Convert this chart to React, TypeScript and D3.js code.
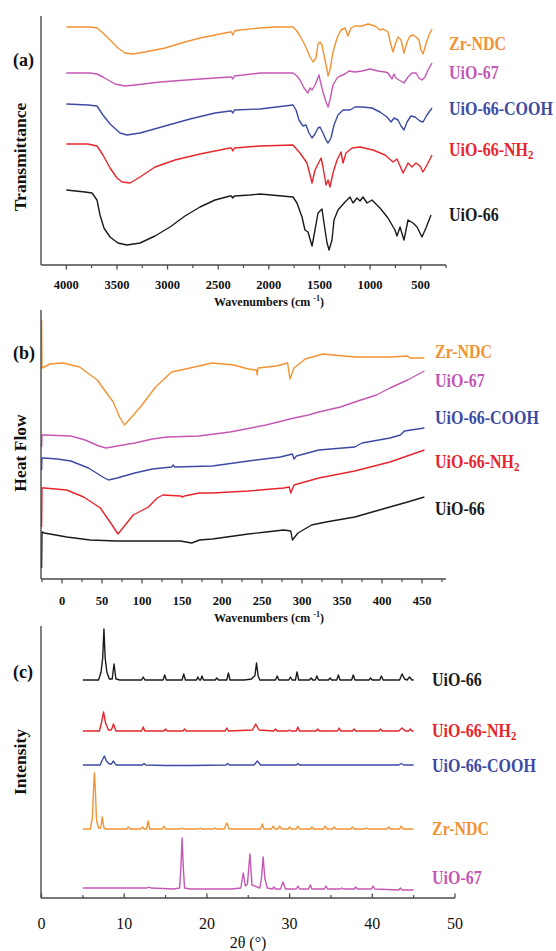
import React from "react";
import * as d3 from "d3";

type Pt = [number, number];

// ---------- colours ----------
const ORANGE = "#F39233";
const MAGENTA = "#C458B4";
const BLUE = "#3D4AA3";
const RED = "#E6262C";
const BLACK = "#1b1b1b";

// ---------- (a) FTIR: wavenumber (cm-1), transmittance (a.u., offset) ----------
const irTicksMajor = [4000, 3500, 3000, 2500, 2000, 1500, 1000, 500];
const irTicksMinor = [3750, 3250, 2750, 2250, 1750, 1250, 750, 250];

const irZrNDC: Pt[] = [
  [4000, 238], [3766, 238], [3697, 237], [3638, 232], [3568, 225], [3490, 217], [3420, 212], [3341, 211],
  [3223, 213], [3025, 217], [2828, 223], [2680, 227], [2482, 231], [2383, 233], [2370, 233], [2355, 230],
  [2340, 234], [2284, 235], [2087, 237], [1939, 238], [1761, 238], [1731, 235], [1692, 229], [1643, 220],
  [1593, 208], [1564, 203], [1534, 207], [1514, 221], [1494, 223], [1475, 220], [1455, 210], [1425, 195],
  [1415, 189], [1396, 195], [1366, 213], [1326, 227], [1287, 235], [1247, 237], [1218, 229], [1188, 237],
  [1149, 239], [1080, 239], [1020, 241], [951, 239], [902, 235], [872, 236], [823, 233], [793, 220],
  [773, 213], [754, 220], [724, 228], [694, 225], [665, 212], [635, 223], [605, 229], [576, 230],
  [546, 228], [517, 225], [497, 215], [477, 211], [448, 221], [418, 230], [388, 236],
];
const irUiO67: Pt[] = [
  [4000, 192], [3766, 192], [3697, 191], [3638, 188], [3519, 181], [3420, 179], [3322, 180], [3075, 183],
  [2680, 186], [2383, 188], [2370, 188], [2355, 186], [2340, 189], [2087, 192], [1761, 192], [1722, 189],
  [1692, 185], [1652, 177], [1613, 172], [1593, 177], [1573, 175], [1544, 180], [1504, 190], [1494, 185],
  [1465, 173], [1435, 163], [1415, 158], [1396, 165], [1366, 180], [1326, 187], [1297, 189], [1247, 191],
  [1208, 194], [1149, 193], [1080, 194], [1000, 196], [922, 194], [852, 193], [823, 192], [783, 186],
  [764, 191], [744, 187], [714, 185], [665, 182], [625, 188], [586, 192], [546, 192], [517, 187],
  [487, 185], [457, 188], [428, 195], [388, 202],
];
const irUiO66COOH: Pt[] = [
  [4000, 161], [3786, 160], [3697, 159], [3638, 150], [3568, 141], [3470, 132], [3401, 130], [3272, 132],
  [3025, 139], [2778, 146], [2531, 152], [2383, 154], [2370, 154], [2355, 152], [2340, 155], [2087, 156],
  [1761, 160], [1731, 155], [1702, 145], [1662, 139], [1633, 140], [1603, 132], [1573, 127], [1544, 131],
  [1514, 137], [1494, 138], [1465, 132], [1435, 125], [1415, 122], [1386, 127], [1356, 140], [1317, 150],
  [1267, 155], [1198, 155], [1149, 158], [1080, 158], [981, 157], [902, 153], [833, 148], [793, 143],
  [764, 147], [724, 145], [694, 139], [665, 135], [635, 143], [596, 149], [556, 148], [507, 144],
  [477, 143], [438, 150], [388, 157],
];
const irUiO66NH2: Pt[] = [
  [4000, 121], [3786, 121], [3697, 119], [3638, 110], [3568, 97], [3499, 87], [3450, 83], [3371, 82],
  [3272, 88], [3124, 98], [2927, 105], [2680, 111], [2482, 115], [2383, 117], [2370, 117], [2355, 114],
  [2340, 117], [2087, 119], [1761, 120], [1692, 112], [1623, 102], [1573, 82], [1544, 95], [1484, 107],
  [1465, 98], [1435, 80], [1415, 85], [1396, 78], [1366, 92], [1326, 105], [1287, 113], [1267, 102],
  [1238, 112], [1178, 117], [1099, 118], [971, 115], [852, 110], [773, 103], [734, 106], [674, 92],
  [625, 102], [586, 98], [546, 102], [507, 99], [477, 93], [438, 100], [388, 110],
];
const irUiO66: Pt[] = [
  [4000, 75], [3815, 73], [3746, 72], [3697, 65], [3667, 50], [3628, 37], [3568, 28], [3490, 22],
  [3401, 20], [3272, 22], [3124, 29], [2976, 38], [2828, 49], [2680, 58], [2531, 65], [2383, 69],
  [2370, 69], [2355, 67], [2340, 69], [2186, 70], [2087, 71], [1761, 68], [1722, 62], [1672, 48],
  [1643, 35], [1613, 33], [1573, 19], [1544, 35], [1514, 52], [1475, 56], [1455, 42], [1425, 22],
  [1405, 15], [1376, 25], [1356, 45], [1317, 55], [1247, 63], [1198, 68], [1168, 62], [1129, 67],
  [1099, 64], [1070, 68], [1030, 62], [981, 65], [902, 57], [823, 47], [754, 35], [734, 29],
  [704, 38], [665, 25], [625, 45], [576, 42], [536, 38], [487, 28], [448, 37], [398, 50],
];

// ---------- (b) DSC: temperature, heat flow (a.u., offset) ----------
const dscTicksMajor = [0, 50, 100, 150, 200, 250, 300, 350, 400, 450];
const dscTicksMinor = [-25, 25, 75, 125, 175, 225, 275, 325, 375, 425, 475];

const dscZrNDC: Pt[] = [
  [-25.5, 259], [-25, 211], [-15, 215], [1, 216], [22, 212], [44, 199], [64, 177], [72, 162], [78, 154],
  [86, 161], [100, 174], [117, 192], [137, 207], [149, 209], [171, 213], [188, 216], [215, 214],
  [233, 210], [243, 209], [244, 204], [245, 211], [268, 213], [282, 216], [285, 200], [290, 211],
  [304, 220], [326, 225], [366, 222], [410, 222], [432, 223], [435, 221], [453, 221],
];
const dscUiO67: Pt[] = [
  [-25.5, 132], [-25, 144], [-22, 144], [11, 143], [29, 139], [46, 133], [55, 131], [69, 133], [91, 136],
  [113, 140], [131, 142], [171, 143], [210, 147], [255, 154], [290, 161], [308, 164], [321, 167],
  [348, 172], [366, 177], [393, 184], [410, 191], [432, 199], [453, 208],
];
const dscUiO66COOH: Pt[] = [
  [-25.5, 109], [-25, 121], [-22, 121], [-6, 120], [11, 118], [33, 111], [51, 102], [58, 99], [69, 101],
  [91, 106], [113, 110], [137, 112], [139, 114], [141, 112], [188, 113], [233, 118], [273, 122],
  [288, 125], [290, 120], [293, 123], [321, 129], [366, 132], [375, 136], [410, 141], [423, 144],
  [428, 148], [453, 151],
];
const dscUiO66NH2: Pt[] = [
  [-25.5, 52], [-25, 91], [-22, 91], [6, 89], [27, 82], [48, 71], [60, 57], [70, 45], [81, 56], [89, 64],
  [101, 69], [108, 72], [119, 81], [126, 84], [148, 83], [151, 82], [153, 83], [172, 86], [188, 86],
  [233, 88], [277, 91], [284, 92], [286, 86], [290, 94], [321, 101], [366, 108], [410, 117], [453, 129],
];
const dscUiO66: Pt[] = [
  [-25.5, 11], [-25, 47], [-22, 46], [6, 42], [35, 39], [68, 38], [110, 38], [148, 38], [162, 36],
  [172, 39], [188, 40], [233, 45], [255, 47], [277, 49], [286, 48], [288, 39], [295, 46], [312, 54],
  [330, 57], [366, 62], [401, 70], [432, 77], [453, 82],
];

// ---------- (c) XRD: 2θ (°), intensity (a.u., offset) ----------
const xrdTicksMajor = [0, 10, 20, 30, 40, 50];
const xrdTicksMinor = [5, 15, 25, 35, 45];

const xrdUiO66: Pt[] = [
  [5, 218], [6.9, 218], [7.2, 226], [7.4, 240], [7.55, 269], [7.7, 240], [7.9, 226], [8.2, 219], [8.55, 219],
  [8.77, 234], [9.0, 219], [9.5, 218], [12.1, 218], [12.3, 221], [12.5, 218], [14.7, 218], [14.9, 223],
  [15.1, 218], [17.0, 218], [17.2, 224], [17.4, 218], [18.75, 218], [18.9, 221], [19.1, 218], [19.25, 218],
  [19.4, 222], [19.6, 218], [21.0, 218], [21.2, 220], [21.4, 218], [22.4, 218], [22.6, 225], [22.8, 218],
  [24.5, 218], [25.4, 219], [25.6, 221], [25.8, 222], [26.0, 235], [26.2, 222], [26.4, 218], [28.3, 218],
  [28.5, 222], [28.7, 218], [29.9, 218], [30.1, 221], [30.3, 218], [30.7, 218], [30.9, 226], [31.1, 218],
  [32.4, 218], [32.6, 220], [32.8, 218], [33.1, 218], [33.3, 222], [33.5, 218], [34.7, 218], [34.9, 220],
  [35.1, 218], [35.7, 218], [35.9, 223], [36.1, 218], [37.5, 218], [37.7, 223], [37.9, 218], [39.6, 218],
  [39.8, 220], [40.0, 218], [40.9, 218], [41.1, 222], [41.3, 218], [43.3, 218], [43.6, 224], [43.9, 219],
  [44.2, 218], [44.5, 221], [44.8, 218], [45, 218],
];
const xrdUiO66NH2: Pt[] = [
  [5, 167], [7.0, 167], [7.25, 175], [7.5, 186], [7.75, 175], [8.1, 168], [8.45, 168], [8.7, 174], [9.0, 167],
  [12.1, 167], [12.3, 171], [12.5, 167], [14.8, 167], [15.0, 169], [15.2, 167], [17.1, 167], [17.3, 169],
  [17.5, 167], [22.2, 167], [22.4, 170], [22.6, 167], [25.5, 168], [25.9, 174], [26.3, 168], [28.1, 167],
  [28.3, 169], [28.5, 167], [29.8, 167], [30, 168], [30.2, 167], [30.8, 167], [31, 171], [31.2, 167],
  [33.2, 167], [33.4, 169], [33.6, 167], [35.8, 167], [36, 170], [36.2, 167], [37.6, 167], [37.8, 169],
  [38.0, 167], [40.8, 167], [41, 169], [41.2, 167], [43.2, 167], [43.6, 170], [44.0, 167], [44.4, 167],
  [44.6, 169], [44.8, 167], [45, 167],
];
const xrdUiO66COOH: Pt[] = [
  [5, 133], [7.1, 133], [7.35, 138], [7.6, 142], [7.85, 137], [8.2, 134], [8.45, 134], [8.7, 137], [9.0, 133],
  [9.5, 133], [12.2, 133], [12.4, 134.5], [12.6, 133], [15, 132.5], [18, 132.5], [22.3, 133], [22.5, 134.5],
  [22.7, 133], [25.7, 133], [26.1, 137], [26.5, 133], [30.8, 133], [31, 134.5], [31.2, 133], [43.2, 133],
  [43.5, 134.5], [43.8, 133], [45, 133],
];
const xrdZrNDC: Pt[] = [
  [5, 69], [5.9, 69], [6.15, 80], [6.3, 110], [6.4, 125], [6.5, 110], [6.65, 78], [6.9, 70], [7.15, 70],
  [7.35, 81], [7.55, 70], [7.9, 69], [10.3, 69], [10.5, 71], [10.7, 69], [12.0, 69], [12.2, 71], [12.4, 69],
  [12.7, 69], [12.9, 77], [13.1, 69], [14.6, 69], [14.8, 72], [15.0, 69], [16.8, 69], [17, 70], [17.2, 69],
  [19, 69], [19.2, 70], [19.4, 69], [20.8, 69], [21, 70], [21.2, 69], [22.1, 69], [22.4, 75], [22.7, 69],
  [26.5, 69], [26.7, 74], [26.9, 69], [27.8, 69], [28.0, 72], [28.2, 69], [28.6, 69], [28.8, 72], [29.0, 69],
  [29.8, 69], [30, 71], [30.2, 69], [30.8, 69], [31, 72], [31.2, 69], [32.5, 69], [32.7, 71], [32.9, 69],
  [34.1, 69], [34.3, 72], [34.5, 69], [35.2, 69], [35.4, 71], [35.6, 69], [37.4, 69], [37.6, 71], [37.8, 69],
  [39.1, 69], [39.3, 70], [39.5, 69], [41.8, 69], [42, 71], [42.2, 69], [43.3, 69], [43.5, 72], [43.7, 69],
  [45, 69],
];
const xrdUiO67: Pt[] = [
  [5, 10], [8, 10], [12.8, 10], [13, 11], [13.2, 10], [16.0, 9], [16.7, 10], [16.85, 30], [17.0, 60],
  [17.15, 30], [17.3, 10], [18, 9], [23, 9], [24.1, 10], [24.4, 25], [24.65, 12], [24.9, 14], [25.2, 44],
  [25.45, 13], [26.4, 10], [26.6, 20], [26.8, 41], [27.0, 20], [27.3, 10], [27.9, 9], [28.1, 11], [28.3, 9],
  [28.9, 9], [29.2, 16], [29.5, 9], [30.8, 9], [31.0, 12], [31.2, 9], [32.3, 9], [32.5, 13], [32.7, 9],
  [34.2, 9], [34.4, 12], [34.6, 9], [36.1, 9], [36.3, 10], [36.5, 9], [37.8, 9], [38.0, 11], [38.2, 9],
  [39.9, 9], [40.1, 12], [40.3, 9], [43.2, 8], [43.4, 10], [43.6, 8], [45, 8],
];

// ---------- drawing ----------
const SERIF = "'Liberation Serif', 'Times New Roman', Times, serif";
const AXIS = "#4a4a4a";

type Series = { name: string; sub?: string; data: Pt[]; color: string; labelY: number };

function Label({ x, y, s, size }: { x: number; y: number; s: Series; size: number }) {
  return (
    <g transform={`translate(${x},${y}) scale(1,1.18)`}>
      <text x={0} y={0} fill={s.color} fontFamily={SERIF} fontWeight="bold" fontSize={size} dominantBaseline="central">
        {s.name}
        {s.sub ? (
          <tspan dy={4} fontSize={size * 0.68}>
            {s.sub}
          </tspan>
        ) : null}
      </text>
    </g>
  );
}

function Panel(props: {
  x: d3.ScaleLinear<number, number>;
  y: d3.ScaleLinear<number, number>;
  axisLeft: number;
  axisRight: number;
  axisTop: number;
  axisBottom: number;
  series: Series[];
  labelX: number;
  major: number[];
  minor: number[];
  tickDir: number;
  tickFont: number;
  tickBold: boolean;
  tickLabelY: number;
  letter: string;
  letterY: number;
  yTitle: string;
  yTitleY: number;
}) {
  const { x, y, series } = props;
  const line = d3
    .line<Pt>()
    .x((d) => x(d[0]))
    .y((d) => y(d[1]));
  const b = props.axisBottom;
  return (
    <g>
      {series.map((s) => (
        <path key={s.name} d={line(s.data) || ""} fill="none" stroke={s.color} strokeWidth={1.4} strokeLinejoin="round" />
      ))}
      <line x1={props.axisLeft} x2={props.axisLeft} y1={props.axisTop} y2={b} stroke={AXIS} strokeWidth={1.4} />
      <line x1={props.axisLeft} x2={props.axisRight} y1={b} y2={b} stroke={AXIS} strokeWidth={1.4} />
      {props.major.map((t) => (
        <line key={"M" + t} x1={x(t)} x2={x(t)} y1={b} y2={b + props.tickDir * 4.5} stroke={AXIS} strokeWidth={1.3} />
      ))}
      {props.minor.map((t) => (
        <line key={"m" + t} x1={x(t)} x2={x(t)} y1={b} y2={b + props.tickDir * 3} stroke={AXIS} strokeWidth={1.2} />
      ))}
      {props.major.map((t) => (
        <text
          key={"L" + t}
          x={x(t)}
          y={props.tickLabelY}
          textAnchor="middle"
          dominantBaseline="central"
          fontFamily={SERIF}
          fontWeight={props.tickBold ? "bold" : "normal"}
          fontSize={props.tickFont}
          fill="#111"
        >
          {t}
        </text>
      ))}
      {series.map((s) => (
        <Label key={"lab" + s.name} x={props.labelX} y={s.labelY} s={s} size={16} />
      ))}
      <text x={13} y={props.letterY} fontFamily={SERIF} fontWeight="bold" fontSize={18} dominantBaseline="central" fill="#111">
        {props.letter}
      </text>
      <text
        transform={`translate(20,${props.yTitleY}) rotate(-90)`}
        textAnchor="middle"
        dominantBaseline="central"
        fontFamily={SERIF}
        fontWeight="bold"
        fontSize={17.5}
        fill="#111"
      >
        {props.yTitle}
      </text>
    </g>
  );
}

function WaveTitle({ y }: { y: number }) {
  return (
    <text x={269} y={y} textAnchor="middle" dominantBaseline="central" fontFamily={SERIF} fontWeight="bold" fontSize={12} fill="#111">
      Wavenumbers (cm{" "}
      <tspan dy={-4} fontSize={8}>
        -1
      </tspan>
      <tspan dy={4}>)</tspan>
    </text>
  );
}

export default function App() {
  const xA = d3.scaleLinear().domain([4250, 250]).range([41, 446]);
  const yA = d3.scaleLinear().domain([0, 250]).range([265, 15]);
  const xB = d3.scaleLinear().domain([-25, 480]).range([42, 446]);
  const yB = d3.scaleLinear().domain([0, 270]).range([579, 309]);
  const xC = d3.scaleLinear().domain([0, 50]).range([41.5, 455]);
  const yC = d3.scaleLinear().domain([0, 272]).range([898, 626]);

  const seriesA: Series[] = [
    { name: "Zr-NDC", data: irZrNDC, color: ORANGE, labelY: 44 },
    { name: "UiO-67", data: irUiO67, color: MAGENTA, labelY: 73 },
    { name: "UiO-66-COOH", data: irUiO66COOH, color: BLUE, labelY: 109 },
    { name: "UiO-66-NH", sub: "2", data: irUiO66NH2, color: RED, labelY: 150 },
    { name: "UiO-66", data: irUiO66, color: BLACK, labelY: 215 },
  ];
  const seriesB: Series[] = [
    { name: "Zr-NDC", data: dscZrNDC, color: ORANGE, labelY: 352 },
    { name: "UiO-67", data: dscUiO67, color: MAGENTA, labelY: 381 },
    { name: "UiO-66-COOH", data: dscUiO66COOH, color: BLUE, labelY: 418 },
    { name: "UiO-66-NH", sub: "2", data: dscUiO66NH2, color: RED, labelY: 462 },
    { name: "UiO-66", data: dscUiO66, color: BLACK, labelY: 509 },
  ];
  const seriesC: Series[] = [
    { name: "UiO-66", data: xrdUiO66, color: BLACK, labelY: 680 },
    { name: "UiO-66-NH", sub: "2", data: xrdUiO66NH2, color: RED, labelY: 731 },
    { name: "UiO-66-COOH", data: xrdUiO66COOH, color: BLUE, labelY: 766 },
    { name: "Zr-NDC", data: xrdZrNDC, color: ORANGE, labelY: 829 },
    { name: "UiO-67", data: xrdUiO67, color: MAGENTA, labelY: 878 },
  ];

  return (
    <svg
      width={556}
      height={951}
      viewBox="0 0 556 951"
      style={{ position: "absolute", left: 0, top: 0, background: "#fff" }}
    >
      <rect x={0} y={0} width={556} height={951} fill="#fff" />
      <Panel
        x={xA} y={yA} axisLeft={41} axisRight={446} axisTop={16} axisBottom={265}
        series={seriesA} labelX={449} major={irTicksMajor} minor={irTicksMinor}
        tickDir={1} tickFont={12.5} tickBold tickLabelY={285}
        letter="(a)" letterY={60} yTitle="Transmittance" yTitleY={157}
      />
      <WaveTitle y={302} />
      <Panel
        x={xB} y={yB} axisLeft={41} axisRight={446} axisTop={310} axisBottom={579}
        series={seriesB} labelX={435} major={dscTicksMajor} minor={dscTicksMinor}
        tickDir={1} tickFont={12.5} tickBold tickLabelY={601}
        letter="(b)" letterY={353} yTitle="Heat Flow" yTitleY={453}
      />
      <WaveTitle y={618} />
      <Panel
        x={xC} y={yC} axisLeft={41} axisRight={455} axisTop={626} axisBottom={898}
        series={seriesC} labelX={432} major={xrdTicksMajor} minor={xrdTicksMinor}
        tickDir={-1} tickFont={16} tickBold={false} tickLabelY={923}
        letter="(c)" letterY={672} yTitle="Intensity" yTitleY={762}
      />
      <text x={248} y={942} textAnchor="middle" dominantBaseline="central" fontFamily={SERIF} fontSize={16} fill="#111">
        2θ (°)
      </text>
    </svg>
  );
}
